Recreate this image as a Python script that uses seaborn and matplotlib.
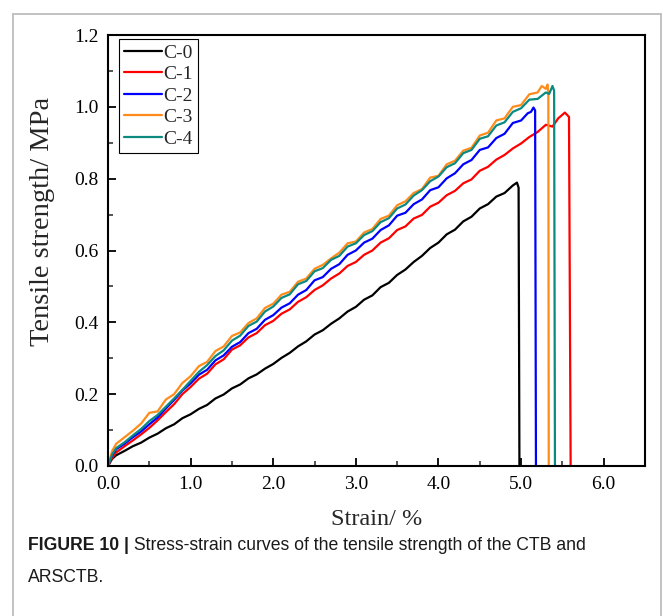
import matplotlib
matplotlib.use("Agg")
import matplotlib.pyplot as plt
from matplotlib.lines import Line2D
from matplotlib.ticker import MultipleLocator, FormatStrFormatter
import pandas as pd
import seaborn as sns

SAMPLES = ["C-0", "C-1", "C-2", "C-3", "C-4"]
COLORS = ["#000000", "#FF0000", "#0000FF", "#FF8C1A", "#0A8A80"]

# common strain grid (%) for the rising part of every curve
STRAIN_GRID = [0.0, 0.05, 0.1, 0.2, 0.3, 0.4, 0.5, 0.6, 0.7, 0.8, 0.9,
               1.0, 1.1, 1.2, 1.3, 1.4, 1.5, 1.6, 1.7, 1.8, 1.9,
               2.0, 2.1, 2.2, 2.3, 2.4, 2.5, 2.6, 2.7, 2.8, 2.9,
               3.0, 3.1, 3.2, 3.3, 3.4, 3.5, 3.6, 3.7, 3.8, 3.9,
               4.0, 4.1, 4.2, 4.3, 4.4, 4.5, 4.6, 4.7, 4.8, 4.9]

# tensile strength (MPa) on the grid
C0_STRESS = [0.000, 0.020, 0.030, 0.042, 0.055, 0.065, 0.079, 0.090, 0.105, 0.116, 0.133,
             0.144, 0.159, 0.170, 0.188, 0.199, 0.216, 0.227, 0.244, 0.255, 0.271,
             0.284, 0.301, 0.315, 0.333, 0.347, 0.366, 0.378, 0.396, 0.411, 0.430,
             0.443, 0.463, 0.475, 0.498, 0.510, 0.532, 0.547, 0.568, 0.585, 0.607,
             0.622, 0.645, 0.658, 0.681, 0.694, 0.717, 0.729, 0.750, 0.760, 0.781]
C1_STRESS = [0.000, 0.022, 0.038, 0.055, 0.071, 0.088, 0.106, 0.127, 0.150, 0.172, 0.200,
             0.220, 0.243, 0.257, 0.283, 0.297, 0.324, 0.336, 0.358, 0.370, 0.392,
             0.404, 0.424, 0.436, 0.457, 0.470, 0.490, 0.503, 0.522, 0.536, 0.557,
             0.568, 0.588, 0.600, 0.622, 0.634, 0.657, 0.667, 0.689, 0.699, 0.722,
             0.733, 0.754, 0.766, 0.787, 0.798, 0.822, 0.833, 0.853, 0.866, 0.884]
C2_STRESS = [0.000, 0.030, 0.047, 0.062, 0.080, 0.096, 0.116, 0.135, 0.160, 0.184, 0.210,
             0.230, 0.254, 0.268, 0.294, 0.308, 0.332, 0.345, 0.370, 0.382, 0.407,
             0.420, 0.441, 0.453, 0.477, 0.490, 0.517, 0.526, 0.549, 0.562, 0.588,
             0.600, 0.622, 0.633, 0.657, 0.670, 0.697, 0.705, 0.729, 0.742, 0.768,
             0.776, 0.801, 0.815, 0.840, 0.852, 0.880, 0.887, 0.913, 0.925, 0.955]
C3_STRESS = [0.000, 0.042, 0.062, 0.080, 0.098, 0.118, 0.148, 0.152, 0.185, 0.200, 0.231,
             0.250, 0.278, 0.290, 0.320, 0.333, 0.362, 0.372, 0.398, 0.411, 0.440,
             0.452, 0.477, 0.485, 0.513, 0.522, 0.549, 0.560, 0.578, 0.594, 0.620,
             0.625, 0.650, 0.660, 0.688, 0.697, 0.726, 0.737, 0.760, 0.771, 0.803,
             0.808, 0.840, 0.850, 0.878, 0.886, 0.920, 0.928, 0.962, 0.968, 1.000]
C4_STRESS = [0.000, 0.032, 0.050, 0.066, 0.085, 0.103, 0.125, 0.142, 0.165, 0.188, 0.212,
             0.237, 0.262, 0.281, 0.306, 0.322, 0.349, 0.363, 0.390, 0.402, 0.430,
             0.444, 0.468, 0.478, 0.506, 0.515, 0.542, 0.551, 0.574, 0.585, 0.611,
             0.620, 0.643, 0.654, 0.679, 0.690, 0.717, 0.728, 0.753, 0.768, 0.793,
             0.806, 0.832, 0.843, 0.871, 0.880, 0.911, 0.918, 0.948, 0.957, 0.986]

# peak and failure (sudden drop) part of every curve
C0_TAIL_X = [4.95, 4.97, 4.98]
C0_TAIL_Y = [0.789, 0.775, 0.0]
C1_TAIL_X = [5.0, 5.1, 5.2, 5.3, 5.38, 5.45, 5.53, 5.58, 5.60]
C1_TAIL_Y = [0.898, 0.916, 0.930, 0.950, 0.945, 0.968, 0.984, 0.972, 0.0]
C2_TAIL_X = [5.0, 5.08, 5.12, 5.15, 5.17, 5.18]
C2_TAIL_Y = [0.962, 0.982, 0.986, 0.998, 0.990, 0.0]
C3_TAIL_X = [5.0, 5.1, 5.2, 5.25, 5.3, 5.32, 5.33, 5.335]
C3_TAIL_Y = [1.005, 1.035, 1.040, 1.058, 1.050, 1.062, 1.040, 0.0]
C4_TAIL_X = [5.0, 5.1, 5.2, 5.3, 5.34, 5.38, 5.40, 5.41]
C4_TAIL_Y = [0.996, 1.020, 1.022, 1.040, 1.036, 1.058, 1.045, 0.0]

X_TICKS = [0.0, 1.0, 2.0, 3.0, 4.0, 5.0, 6.0]
Y_TICKS = [0.0, 0.2, 0.4, 0.6, 0.8, 1.0, 1.2]

curves = [
    (C0_STRESS, C0_TAIL_X, C0_TAIL_Y),
    (C1_STRESS, C1_TAIL_X, C1_TAIL_Y),
    (C2_STRESS, C2_TAIL_X, C2_TAIL_Y),
    (C3_STRESS, C3_TAIL_X, C3_TAIL_Y),
    (C4_STRESS, C4_TAIL_X, C4_TAIL_Y),
]
frames = []
for name, (stress, tx, ty) in zip(SAMPLES, curves):
    frames.append(pd.DataFrame({
        "strain": STRAIN_GRID + tx,
        "stress": stress + ty,
        "sample": name,
    }))
df = pd.concat(frames, ignore_index=True)

sns.set_style("ticks")
plt.rcParams["font.family"] = ["Liberation Serif", "DejaVu Serif"]
plt.rcParams["xtick.direction"] = "in"
plt.rcParams["ytick.direction"] = "in"

fig = plt.figure(figsize=(6.63, 6.16), dpi=100)
ax = fig.add_axes([108 / 663, 1 - 466 / 616, 537 / 663, 431 / 616])

sns.lineplot(
    data=df, x="strain", y="stress", hue="sample",
    hue_order=SAMPLES, palette=COLORS,
    sort=False, estimator=None, linewidth=1.6, ax=ax
)

ax.set_xlim(0, 6.5)
ax.set_ylim(0, 1.2)
ax.set_xticks(X_TICKS)
ax.set_yticks(Y_TICKS)
ax.xaxis.set_minor_locator(MultipleLocator(0.5))
ax.yaxis.set_minor_locator(MultipleLocator(0.1))
ax.xaxis.set_major_formatter(FormatStrFormatter("%.1f"))
ax.yaxis.set_major_formatter(FormatStrFormatter("%.1f"))
ax.tick_params(which="major", length=6, width=1.3, labelsize=14, pad=7, colors="black")
ax.tick_params(which="minor", length=3.5, width=1.1)
for sp in ax.spines.values():
    sp.set_linewidth(1.5)
    sp.set_color("black")

ax.set_xlabel("Strain/ %", fontsize=17.5, labelpad=12)
ax.set_ylabel("Tensile strength/ MPa", fontsize=20.5)
ax.yaxis.set_label_coords(-0.099, 0.568)

handles, labels = ax.get_legend_handles_labels()
ax.legend(
    handles, labels, loc="upper left", bbox_to_anchor=(0.02, 0.99),
    frameon=True, fancybox=False, edgecolor="black", framealpha=1,
    fontsize=14, handlelength=2.0, handletextpad=0.05,
    labelspacing=0.2, borderpad=0.25, borderaxespad=0.0
)
ax.get_legend().get_frame().set_linewidth(0.8)

# light grey frame around the figure
frame_kw = dict(color="#BDBDBD", linewidth=1.3, transform=fig.transFigure)
fig.add_artist(Line2D([12.5 / 663, 12.5 / 663], [0, 1 - 14 / 616], **frame_kw))
fig.add_artist(Line2D([12.5 / 663, 661 / 663], [1 - 14 / 616, 1 - 14 / 616], **frame_kw))
fig.add_artist(Line2D([661 / 663, 661 / 663], [0, 1 - 14 / 616], **frame_kw))

# caption
cap_kw = dict(family="Liberation Sans", fontsize=12.7, va="baseline", color="#1A1A1A")
t1 = fig.text(28 / 663, 1 - 550 / 616, "FIGURE 10 |", fontweight="bold", **cap_kw)
fig.canvas.draw()
bb = t1.get_window_extent(renderer=fig.canvas.get_renderer())
x2 = bb.x1 / fig.bbox.width
fig.text(x2, 1 - 550 / 616, " Stress-strain curves of the tensile strength of the CTB and", **cap_kw)
fig.text(28 / 663, 1 - 582 / 616, "ARSCTB.", **cap_kw)

fig.savefig("out.png", dpi=100)
